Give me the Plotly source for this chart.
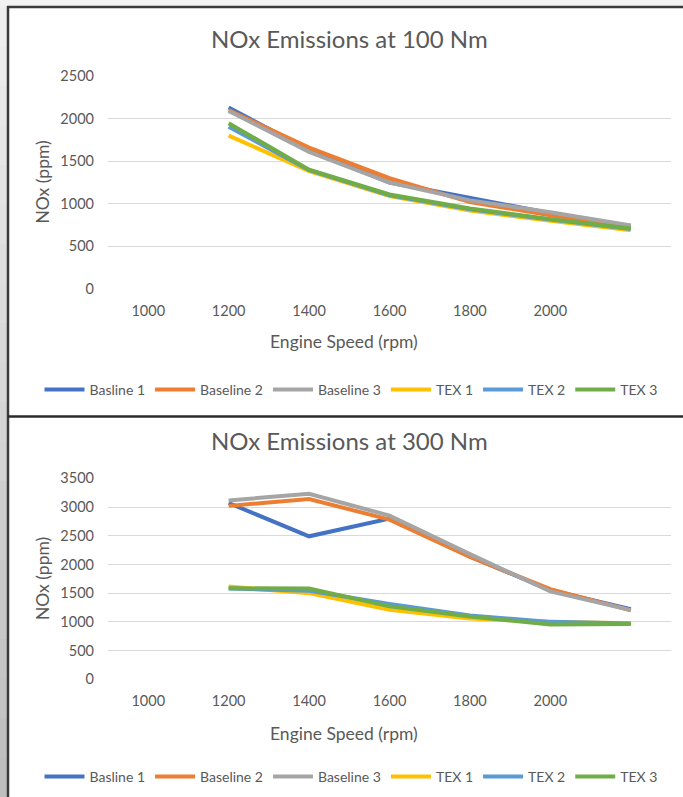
import plotly.graph_objects as go

# Engine speed categories (rpm); the last point carries no tick label
speeds = [1000, 1200, 1400, 1600, 1800, 2000, 2200]
tick_labels = ["1000", "1200", "1400", "1600", "1800", "2000"]

series_names = ["Basline 1", "Baseline 2", "Baseline 3", "TEX 1", "TEX 2", "TEX 3"]
series_colors = ["#4472C4", "#ED7D31", "#A5A5A5", "#FFC000", "#5B9BD5", "#70AD47"]

# NOx (ppm) at 100 Nm
nox100_basline1 = [None, 2130, 1630, 1250, 1070, 890, 740]
nox100_baseline2 = [None, 2100, 1660, 1300, 1020, 865, 730]
nox100_baseline3 = [None, 2090, 1610, 1250, 1040, 900, 745]
nox100_tex1 = [None, 1800, 1385, 1090, 920, 800, 690]
nox100_tex2 = [None, 1905, 1395, 1100, 935, 815, 705]
nox100_tex3 = [None, 1945, 1400, 1110, 945, 820, 710]

# NOx (ppm) at 300 Nm
nox300_basline1 = [None, 3070, 2490, 2800, 2140, 1550, 1220]
nox300_baseline2 = [None, 3020, 3140, 2780, 2130, 1570, 1200]
nox300_baseline3 = [None, 3115, 3230, 2850, 2180, 1530, 1205]
nox300_tex1 = [None, 1615, 1500, 1210, 1060, 1000, 975]
nox300_tex2 = [None, 1580, 1540, 1310, 1110, 1000, 970]
nox300_tex3 = [None, 1585, 1580, 1270, 1095, 955, 965]

nox100 = [nox100_basline1, nox100_baseline2, nox100_baseline3, nox100_tex1, nox100_tex2, nox100_tex3]
nox300 = [nox300_basline1, nox300_baseline2, nox300_baseline3, nox300_tex1, nox300_tex2, nox300_tex3]

W, H = 683, 797
FONT = "Lato"
TXT = "#595959"
GRID = "#D9D9D9"


def px(x):
    return x / W


def py(y):
    return 1 - y / H


fig = go.Figure()

for name, color, vals in zip(series_names, series_colors, nox100):
    fig.add_trace(go.Scatter(x=speeds, y=vals, name=name, mode="lines",
                             line=dict(color=color, width=4),
                             xaxis="x", yaxis="y", legend="legend",
                             connectgaps=False))
for name, color, vals in zip(series_names, series_colors, nox300):
    fig.add_trace(go.Scatter(x=speeds, y=vals, name=name, mode="lines",
                             line=dict(color=color, width=4),
                             xaxis="x2", yaxis="y2", legend="legend2",
                             connectgaps=False))

xdom = [px(108), px(671)]
xaxis_common = dict(range=[900, 2300], tickvals=speeds[:6], ticktext=tick_labels,
                    showgrid=False, zeroline=False, showline=False, ticks="",
                    ticklabelstandoff=11, automargin=False,
                    tickfont=dict(family=FONT, size=14.5, color=TXT), fixedrange=True)
yaxis_common = dict(showgrid=True, gridcolor=GRID, gridwidth=1, zeroline=False,
                    showline=False, ticks="", ticklabelstandoff=13, automargin=False,
                    tickfont=dict(family=FONT, size=14.5, color=TXT), fixedrange=True)

legend_common = dict(orientation="h", xanchor="center", yanchor="middle",
                     x=px(351), bgcolor="rgba(0,0,0,0)", itemwidth=40,
                     font=dict(family=FONT, size=14, color=TXT), tracegroupgap=0)

fig.update_layout(
    width=W, height=H, autosize=False,
    margin=dict(l=0, r=0, t=0, b=0, pad=0),
    paper_bgcolor="white", plot_bgcolor="white",
    xaxis=dict(domain=xdom, anchor="y", **xaxis_common),
    yaxis=dict(domain=[py(289), py(76)], anchor="x", range=[0, 2500], dtick=500, **yaxis_common),
    xaxis2=dict(domain=xdom, anchor="y2", **xaxis_common),
    yaxis2=dict(domain=[py(679.3), py(478.3)], anchor="x2", range=[0, 3500], dtick=500, **yaxis_common),
    legend=dict(y=py(390), **legend_common),
    legend2=dict(y=py(777), **legend_common),
    showlegend=True,
)

# Chart titles and axis titles
annots = [
    ("NOx Emissions at 100 Nm", 349, 38, 24, 0),
    ("NOx Emissions at 300 Nm", 349, 441, 24, 0),
    ("Engine Speed (rpm)", 344, 341, 17.5, 0),
    ("Engine Speed (rpm)", 344, 733, 17.5, 0),
    ("NOx (ppm)", 42, 182.5, 17.5, -90),
    ("NOx (ppm)", 42, 579, 17.5, -90),
]
for text, x, y, size, angle in annots:
    fig.add_annotation(text=text, x=px(x), y=py(y), xref="paper", yref="paper",
                       xanchor="center", yanchor="middle", showarrow=False,
                       textangle=angle, font=dict(family=FONT, size=size, color=TXT))

# Window frame around the two charts
shapes = [
    dict(type="rect", x0=0, x1=1, y0=py(7), y1=1, fillcolor="#F2F2F2", line=dict(width=0)),
]
n_steps = 20
step = (H - 7) / n_steps
for i in range(n_steps):
    y0 = 7 + step * i
    y1 = min(H, y0 + step + 2)  # slight overlap to avoid seams between bands
    g = int(238 - (238 - 190) * i / (n_steps - 1))
    shapes.append(dict(type="rect", x0=0, x1=px(7), y0=py(y1), y1=py(y0),
                       fillcolor=f"rgb({g},{g},{g})", line=dict(width=0)))
shapes += [
    dict(type="line", x0=px(7), x1=1, y0=py(7), y1=py(7), line=dict(color="#3A3A3A", width=2.5)),
    dict(type="line", x0=px(8), x1=px(8), y0=0, y1=py(6), line=dict(color="#3A3A3A", width=2.5)),
    dict(type="line", x0=px(8), x1=1, y0=py(416.5), y1=py(416.5), line=dict(color="#2A2A2A", width=2.5)),
]
for s in shapes:
    s.update(xref="paper", yref="paper", layer="above")
fig.update_layout(shapes=shapes)

fig.write_html("out.html")
